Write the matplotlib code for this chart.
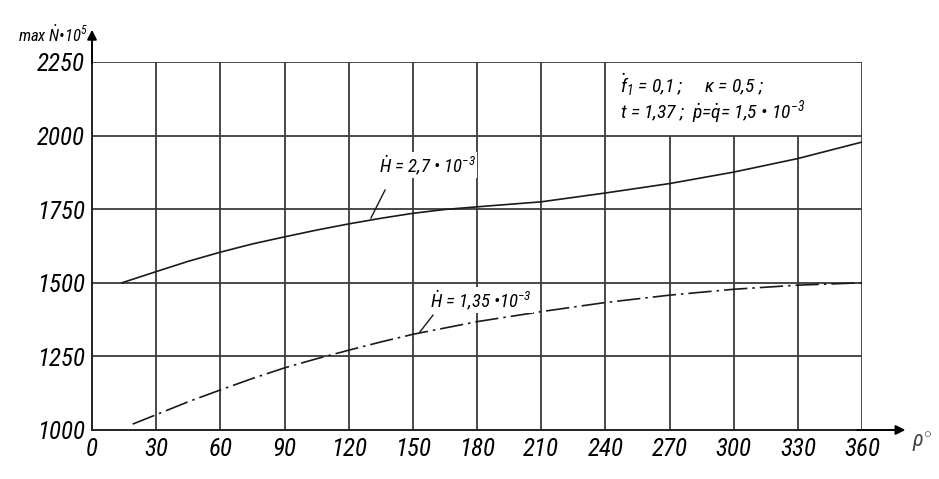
import matplotlib.pyplot as plt
from matplotlib import font_manager

# curve values (phi in degrees, max N * 10^5)
phi_upper = [14, 30, 45, 60, 75, 90, 105, 120, 135, 150, 165, 180, 210, 240, 270, 300, 330, 360]
n_upper = [1500, 1538, 1573, 1604, 1632, 1656, 1679, 1700, 1719, 1736, 1749, 1758, 1775, 1805,
           1837, 1876, 1922, 1978]
phi_lower = [19, 30, 45, 60, 75, 90, 105, 120, 135, 150, 180, 210, 240, 270, 300, 330, 360]
n_lower = [1020, 1052, 1096, 1136, 1175, 1211, 1242, 1271, 1299, 1325, 1368, 1402, 1433, 1458,
           1478, 1492, 1500]

x_ticks = [0, 30, 60, 90, 120, 150, 180, 210, 240, 270, 300, 330, 360]
y_ticks = [1000, 1250, 1500, 1750, 2000, 2250]

# pick a narrow sans font if one is installed
names = {f.name for f in font_manager.fontManager.ttflist}
FONT = 'DejaVu Sans'
for cand in ['Roboto Condensed', 'Archivo Narrow', 'PT Sans Narrow', 'Open Sans Condensed',
             'Liberation Sans Narrow', 'Encode Sans Condensed', 'Fira Sans Condensed',
             'IBM Plex Sans Condensed', 'Asap Condensed']:
    if cand in names:
        FONT = cand
        break

plt.rcParams['font.family'] = [FONT, 'DejaVu Sans']
plt.rcParams['font.style'] = 'italic'
plt.rcParams['mathtext.fontset'] = 'custom'
plt.rcParams['mathtext.rm'] = FONT + ':italic'
plt.rcParams['mathtext.it'] = FONT + ':italic'

fig = plt.figure(figsize=(9.39, 4.79), dpi=100)
ax = fig.add_axes([0.098, 0.1023, 0.82, 0.7683])
ax.set_xlim(0, 360)
ax.set_ylim(1000, 2250)

grid_kw = dict(color='#3a3a3a', lw=1.3, zorder=1)
for y in y_ticks[1:]:
    ax.hlines(y, 0, 360, **grid_kw)
for x in x_ticks[1:]:
    top = 2000 if 240 < x < 360 else 2250
    ax.vlines(x, 1000, top, **grid_kw)

for s in ['top', 'right']:
    ax.spines[s].set_visible(False)
for s in ['left', 'bottom']:
    ax.spines[s].set_color('#222222')
    ax.spines[s].set_linewidth(1.4)

# axis arrows
ax.annotate('', xy=(0, 1.095), xytext=(0, 0.99), xycoords='axes fraction',
            arrowprops=dict(arrowstyle='-|>', color='black', lw=1.4, mutation_scale=14))
ax.annotate('', xy=(1.06, 0), xytext=(0.99, 0), xycoords='axes fraction',
            arrowprops=dict(arrowstyle='-|>', color='black', lw=1.4, mutation_scale=14))

ax.plot(phi_upper, n_upper, color='#1a1a1a', lw=1.2, zorder=3)
ax.plot(phi_lower, n_lower, color='#1a1a1a', lw=1.2, zorder=3,
        linestyle=(0, (14, 3, 1.5, 3)))

ax.set_xticks(x_ticks)
ax.set_yticks(y_ticks)
ax.set_xticklabels([str(v) for v in x_ticks], fontsize=18)
ax.set_yticklabels([str(v) for v in y_ticks], fontsize=18)
ax.tick_params(length=0, pad=5)

# curve labels with leaders
ax.text(134, 1900, r'$\dot{H}$ = 2,7 • 10$^{-3}$', fontsize=13.5, va='center', ha='left',
        zorder=4, bbox=dict(facecolor='white', edgecolor='none', pad=1))
ax.plot([137, 130.4], [1815, 1720], color='#1a1a1a', lw=1.0, zorder=3)
ax.text(158, 1441, r'$\dot{H}$ = 1,35 •10$^{-3}$', fontsize=13.5, va='center', ha='left',
        zorder=4, bbox=dict(facecolor='white', edgecolor='none', pad=1))
ax.plot([159.4, 153.3], [1390, 1333], color='#1a1a1a', lw=1.0, zorder=3)

# parameters box text
ax.text(247, 2172, r'$\dot{f}_1$ = 0,1 ;     κ = 0,5 ;', fontsize=14, va='center', ha='left')
ax.text(247, 2080, r't = 1,37 ;  $\dot{p}$=$\dot{q}$= 1,5 • 10$^{-3}$', fontsize=14,
        va='center', ha='left')

# axis titles
fig.text(18 / 939, 1 - 42 / 479, r'max $\dot{N}$•10$^5$', fontsize=12, ha='left',
         va='baseline')
fig.text(912 / 939, 1 - 447 / 479, r'ρ$^{\circ}$', fontsize=16, ha='left', va='baseline',
         color='#444444')

fig.savefig('out.png', dpi=100)
